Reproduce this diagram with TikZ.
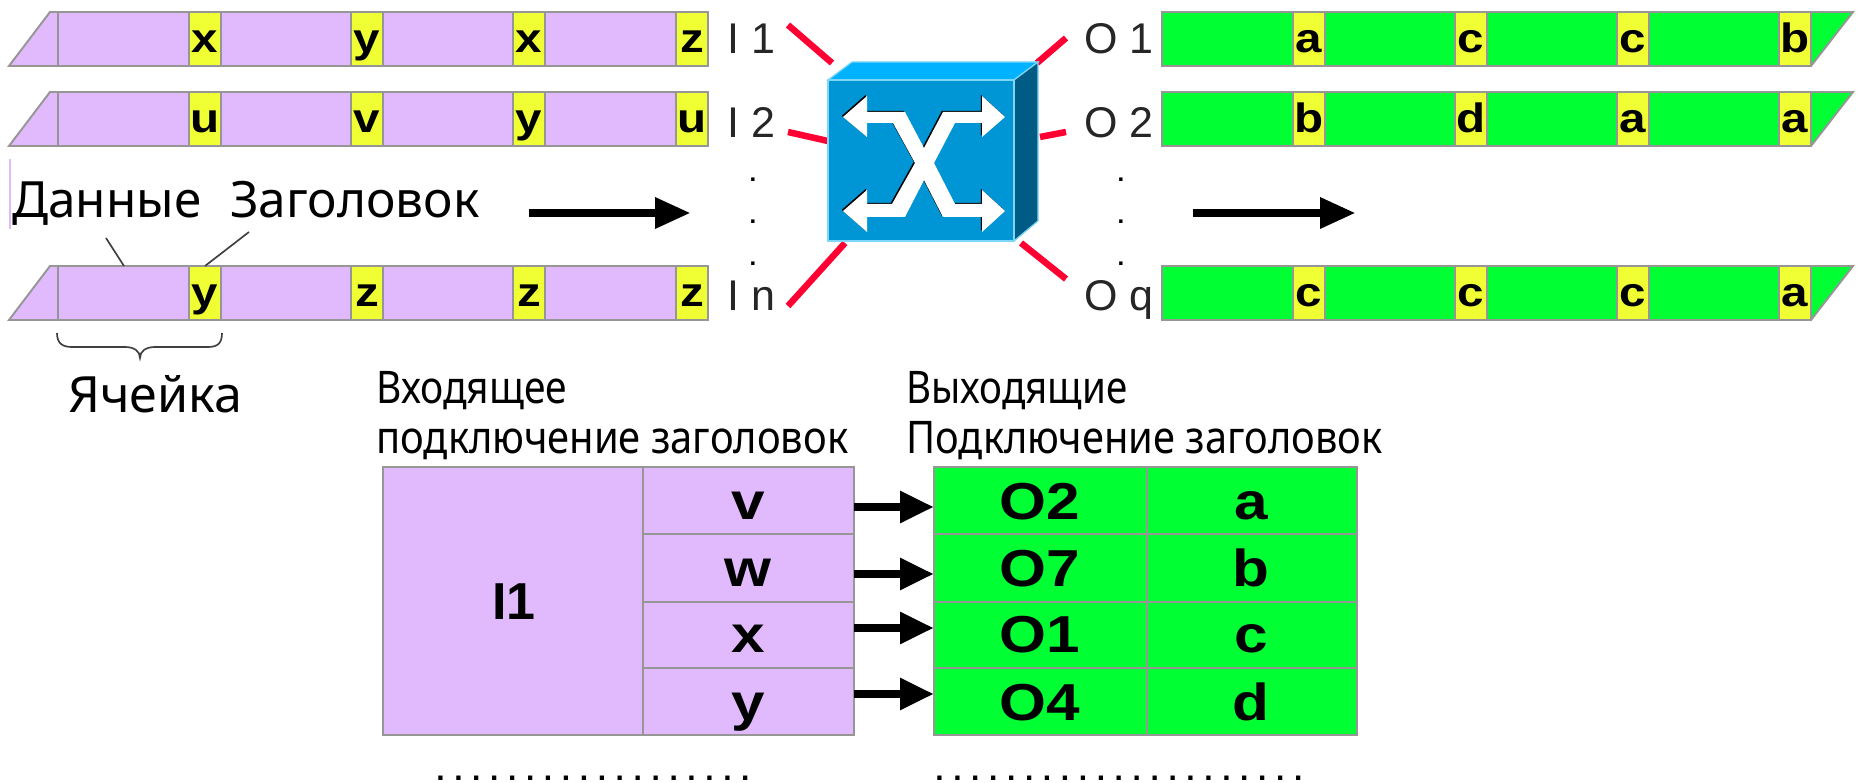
\documentclass[tikz,border=0pt]{standalone}
\usepackage{fontspec}
\usepackage{graphicx}
\usetikzlibrary{arrows.meta}
\setmainfont{Noto Sans}
\newfontfamily\arial{Liberation Sans}
\newcommand\pxf[1]{\fontsize{\fpeval{#1*0.569}pt}{\fpeval{#1*0.569}pt}\selectfont}
\newcommand\fitw[2]{\resizebox{\fpeval{#1*0.02}cm}{\height}{#2}}
\newcommand\xs[1]{\scalebox{1.16}[1]{#1}}
\definecolor{purp}{HTML}{E1B9FD}
\definecolor{yel}{HTML}{F0FF33}
\definecolor{grn}{HTML}{00FF33}
\definecolor{edge}{HTML}{969696}
\definecolor{redl}{HTML}{FF0033}
\definecolor{swfront}{HTML}{0095D5}
\definecolor{swtop}{HTML}{00B2FF}
\definecolor{swside}{HTML}{005C85}
\definecolor{swline}{HTML}{7FD6F7}
\tikzset{
  cellb/.style={draw=edge,line width=1.1pt,inner sep=0pt,outer sep=0pt,anchor=north west},
  hcell/.style={cellb,fill=yel,minimum width=0.64cm,minimum height=1.08cm},
  hletter/.style={anchor=base,inner sep=0pt,font=\arial\bfseries\pxf{41}},
  tletter/.style={anchor=base,inner sep=0pt,font=\arial\bfseries\pxf{52}},
  portl/.style={anchor=base west,inner sep=0pt,text=black!85,font=\arial\pxf{43}},
  dotl/.style={anchor=base,inner sep=0pt,font=\arial\bfseries\pxf{24}},
  biglabel/.style={anchor=base west,inner sep=0pt,font=\pxf{50}},
  smalllabel/.style={anchor=base west,inner sep=0pt,font=\pxf{45}},
  redline/.style={draw=redl,line width=3.7pt},
  bigarrow/.style={-{Triangle[length=0.72cm,width=0.58cm]},line width=5.1pt},
  tabarrow/.style={-{Triangle[length=0.68cm,width=0.6cm]},line width=5.1pt},
  pointerline/.style={draw=black!75,line width=0.95pt},
  dotrow/.style={anchor=base west,inner sep=0pt},
}
% in-row: name, top y, four letters
\newcommand\rowL[6]{%
  \path[fill=purp,draw=edge,line width=1.1pt] (9,#2+54) -- (50,#2) -- (708,#2) -- (708,#2+54) -- cycle;
  \draw[draw=edge,line width=1.1pt] (58,#2) -- (58,#2+54);
  \foreach \cx/\lt/\k in {189/#3/a,351/#4/b,513/#5/c,676/#6/d}{
    \node[hcell] (#1\k) at (\cx,#2) {};
    \node[hletter] (#1\k t) at (\cx+16,#2+41) {\xs{\lt}};
  }
}
% out-row
\newcommand\rowR[6]{%
  \path[fill=grn,draw=edge,line width=1.1pt] (1162,#2) -- (1853,#2) -- (1811,#2+54) -- (1162,#2+54) -- cycle;
  \foreach \cx/\lt/\k in {1293/#3/a,1455/#4/b,1617/#5/c,1779/#6/d}{
    \node[hcell] (#1\k) at (\cx,#2) {};
    \node[hletter] (#1\k t) at (\cx+16,#2+41) {\xs{\lt}};
  }
}
\begin{document}
\begin{tikzpicture}[x=0.02cm,y=-0.02cm]
\useasboundingbox[fill=white] (0,0) rectangle (1860,783);

% rows
\rowL{la}{12}{x}{y}{x}{z}
\rowL{lb}{92}{u}{v}{y}{u}
\rowL{lc}{266}{y}{z}{z}{z}
\rowR{ra}{12}{a}{c}{c}{b}
\rowR{rb}{92}{b}{d}{a}{a}
\rowR{rc}{266}{c}{c}{c}{a}

% labels on the left
\fill[purp] (8.5,159) rectangle (10.5,229);
\node[biglabel] (dat) at (12,218) {\fitw{189}{Данные}};
\node[biglabel] (zag) at (230,218) {\fitw{249}{Заголовок}};
\coordinate (pd0) at (106,238); \coordinate (pd1) at (124,266);
\coordinate (pz0) at (249,232); \coordinate (pz1) at (205,266);
\draw[pointerline] (pd0) -- (pd1);
\draw[pointerline] (pz0) -- (pz1);

% brace
\coordinate (bl) at (57,333); \coordinate (br) at (222,333); \coordinate (bm) at (140,358);
\draw[pointerline] (bl) .. controls (57,343) and (62,347) .. (72,347) -- (125,347)
  .. controls (134,347) and (140,351) .. (bm) .. controls (140,351) and (146,347) .. (155,347) -- (208,347)
  .. controls (218,347) and (222,343) .. (br);
\node[biglabel] (cell) at (68,413) {\fitw{174}{Ячейка}};

% flow arrows
\coordinate (fa0) at (529,213); \coordinate (fa1) at (691,213);
\coordinate (fb0) at (1193,213); \coordinate (fb1) at (1356,213);
\draw[bigarrow] (fa0) -- (fa1);
\draw[bigarrow] (fb0) -- (fb1);

% port labels
\node[portl] (i1) at (727,54) {I 1};
\node[portl] (i2) at (727,138) {I 2};
\node[portl] (in) at (727,311) {I n};
\node[portl] (o1) at (1084,54) {O 1};
\node[portl] (o2) at (1084,138) {O 2};
\node[portl] (oq) at (1084,311) {O q};
\foreach \yy/\k in {182/a,224/b,266/c}{
  \node[dotl] (id\k) at (753,\yy) {.};
  \node[dotl] (od\k) at (1121,\yy) {.};
}

% red links
\coordinate (ra0) at (788,25); \coordinate (ra1) at (832,63);
\coordinate (rb0) at (788,132); \coordinate (rb1) at (828,141);
\coordinate (rc0) at (788,306); \coordinate (rc1) at (845,243);
\coordinate (rd0) at (1066,38); \coordinate (rd1) at (1037,63);
\coordinate (re0) at (1066,132); \coordinate (re1) at (1040,137);
\coordinate (rf0) at (1066,279); \coordinate (rf1) at (1021,243);
\draw[redline] (ra0) -- (ra1);
\draw[redline] (rb0) -- (rb1);
\draw[redline] (rc0) -- (rc1);
\draw[redline] (rd0) -- (rd1);
\draw[redline] (re0) -- (re1);
\draw[redline] (rf0) -- (rf1);

% switch
\path[fill=swtop,draw=swline,line width=0.7pt] (828,80) -- (852,62) -- (1038,62) -- (1014,80) -- cycle;
\path[fill=swside,draw=swline,line width=0.7pt] (1014,80) -- (1038,62) -- (1038,221) -- (1014,241) -- cycle;
\path[fill=swfront,draw=swline,line width=0.7pt] (828,80) rectangle (1014,241);
\def\xshape{(843,117) -- (867,96) -- (867,112) -- (905,112) -- (924,148) -- (943,112) -- (982,112) -- (982,96) -- (1005,117) -- (982,137) -- (982,123) -- (955,123) -- (934,163) -- (955,204) -- (982,204) -- (982,190) -- (1005,211) -- (982,232) -- (982,217) -- (943,217) -- (924,180) -- (905,217) -- (867,217) -- (867,232) -- (843,211) -- (867,190) -- (867,204) -- (892,204) -- (915,163) -- (893,123) -- (867,123) -- (867,137) -- cycle}
\fill[black,xshift=-0.024cm,yshift=0.024cm] \xshape;
\fill[white] \xshape;

% column headings
\node[smalllabel] (h1) at (376,404) {\fitw{191}{Входящее}};
\node[smalllabel] (h2) at (376,454) {\fitw{472}{подключение заголовок}};
\node[smalllabel] (h3) at (906,404) {\fitw{221}{Выходящие}};
\node[smalllabel] (h4) at (906,454) {\fitw{476}{Подключение заголовок}};

% tables
\tikzset{
  lt/.style={cellb,fill=purp},
  gt/.style={cellb,fill=grn},
}
\node[lt,minimum width=5.2cm,minimum height=5.36cm] (ti) at (383,467) {};
\node[lt,minimum width=4.22cm,minimum height=1.34cm] (tv) at (643,467) {};
\node[lt,minimum width=4.22cm,minimum height=1.36cm] (tw) at (643,534) {};
\node[lt,minimum width=4.22cm,minimum height=1.32cm] (tx) at (643,602) {};
\node[lt,minimum width=4.22cm,minimum height=1.34cm] (ty) at (643,668) {};
\node[gt,minimum width=4.26cm,minimum height=1.34cm] (to2) at (934,467) {};
\node[gt,minimum width=4.26cm,minimum height=1.36cm] (to7) at (934,534) {};
\node[gt,minimum width=4.26cm,minimum height=1.32cm] (to1) at (934,602) {};
\node[gt,minimum width=4.26cm,minimum height=1.34cm] (to4) at (934,668) {};
\node[gt,minimum width=4.2cm,minimum height=1.34cm] (ta) at (1147,467) {};
\node[gt,minimum width=4.2cm,minimum height=1.36cm] (tb) at (1147,534) {};
\node[gt,minimum width=4.2cm,minimum height=1.32cm] (tc) at (1147,602) {};
\node[gt,minimum width=4.2cm,minimum height=1.34cm] (td) at (1147,668) {};

\node[tletter] (ti1) at (514,620) {I1};
\foreach \lt/\yy/\k in {v/520/a,w/587/b,x/653/c,y/720/d}
  \node[tletter] (tl\k) at (748,\yy) {\xs{\lt}};
\foreach \lt/\yy/\k in {O2/520/a,O7/587/b,O1/653/c,O4/720/d}
  \node[tletter] (tm\k) at (1040,\yy) {\xs{\lt}};
\foreach \lt/\yy/\k in {a/520/a,b/587/b,c/653/c,d/720/d}
  \node[tletter] (tn\k) at (1251,\yy) {\xs{\lt}};

% table arrows
\foreach \yy/\k in {507/a,574/b,628/c,694/d}{
  \coordinate (tas\k) at (854,\yy);
  \coordinate (tae\k) at (934,\yy);
  \draw[tabarrow] (tas\k) -- (tae\k);
}

% dotted lines at the bottom
\node[dotrow] (dl) at (436,780) {\arial\bfseries\pxf{30}\addfontfeature{LetterSpace=32}..................};
\node[dotrow] (dr) at (935,780) {\arial\bfseries\pxf{30}\addfontfeature{LetterSpace=32}.....................};
\end{tikzpicture}
\end{document}
